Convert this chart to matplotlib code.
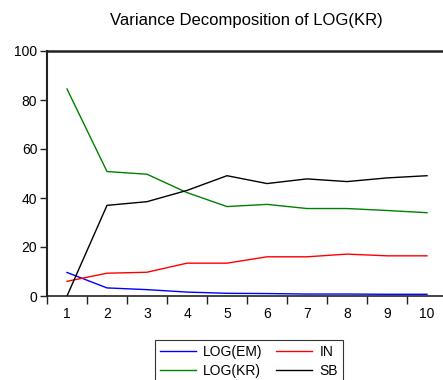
import matplotlib.pyplot as plt
import numpy as np

plt.rcParams['font.family'] = ['Liberation Sans', 'DejaVu Sans']

periods = np.arange(1, 11)
log_em = [9.6, 3.3, 2.6, 1.6, 1.1, 1.0, 0.8, 0.8, 0.7, 0.7]
inn = [6.0, 9.3, 9.7, 13.4, 13.4, 16.0, 16.0, 17.1, 16.4, 16.4]
log_kr = [84.5, 50.8, 49.7, 42.2, 36.5, 37.4, 35.7, 35.7, 34.9, 34.0]
sb = [0.0, 37.0, 38.5, 43.1, 49.1, 45.9, 47.8, 46.7, 48.2, 49.1]

fig = plt.figure(figsize=(4.43, 3.8), dpi=100)
# axes run past the right edge like the original export
ax = fig.add_axes([47/443, 1 - 296/380, 400/443, 245/380])

ax.plot(periods, log_em, color='#0000ff', linewidth=1.0, label='LOG(EM)')
ax.plot(periods, log_kr, color='#008000', linewidth=1.0, label='LOG(KR)')
ax.plot(periods, inn, color='#ff0000', linewidth=1.0, label='IN')
ax.plot(periods, sb, color='#000000', linewidth=1.0, label='SB')

ax.set_xlim(0.5, 10.5)
ax.set_ylim(0, 100)
ax.set_yticks([0, 20, 40, 60, 80, 100])

# major ticks sit between periods, labels at the periods
ax.set_xticks(np.arange(0.5, 11, 1.0))
ax.set_xticklabels([])
ax.set_xticks(periods, minor=True)
ax.set_xticklabels([str(p) for p in periods], minor=True)
ax.tick_params(axis='x', which='minor', length=0, pad=8, labelsize=10)
ax.tick_params(axis='x', which='major', direction='out', length=6, width=1, color='#222222')
ax.tick_params(axis='y', direction='out', length=5, width=1, color='#222222', labelsize=10, pad=2)

for side in ['left', 'top', 'bottom', 'right']:
    ax.spines[side].set_color('#222222')
ax.spines['left'].set_linewidth(1.5)
ax.spines['top'].set_linewidth(1.8)
ax.spines['bottom'].set_linewidth(1.2)

fig.text(246/443, 1 - 20/380, 'Variance Decomposition of LOG(KR)',
         ha='center', va='center', fontsize=12)

leg = fig.legend(loc='upper left', bbox_to_anchor=(155/443, 1 - 340/380), ncol=2,
                 fontsize=10, frameon=True, fancybox=False, handlelength=2.6,
                 borderpad=0.35, labelspacing=0.35, columnspacing=1.0, handletextpad=0.5,
                 borderaxespad=0)
leg.get_frame().set_edgecolor('black')
leg.get_frame().set_linewidth(0.8)

fig.savefig('out.png', dpi=100)
